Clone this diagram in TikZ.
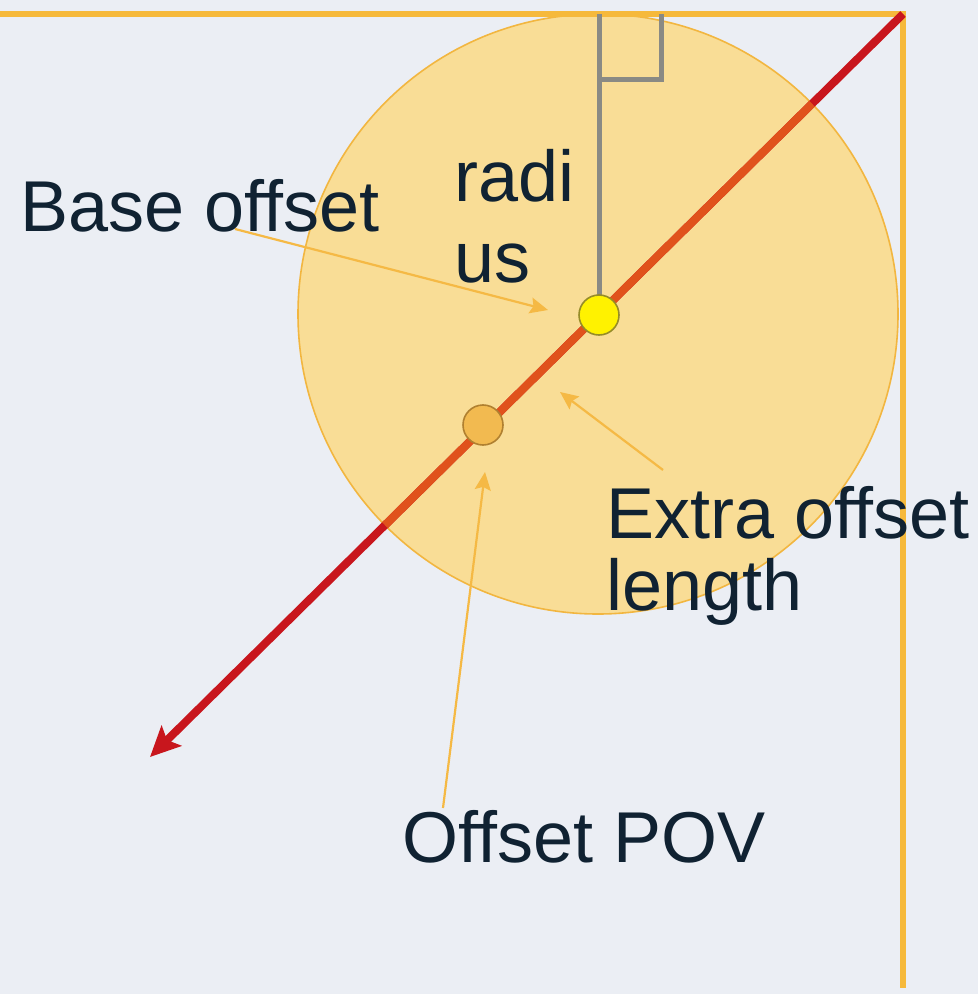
\documentclass[tikz,border=0pt]{standalone}
\usepackage{fontspec}
\setmainfont{Liberation Sans}
\usepackage{xcolor}
\usetikzlibrary{arrows.meta,positioning,calc}
\definecolor{bgpale}{RGB}{235,238,244}
\definecolor{framegold}{RGB}{246,185,59}
\definecolor{discfill}{RGB}{249,221,150}
\definecolor{discedge}{RGB}{242,182,64}
\definecolor{rayred}{RGB}{200,22,29}
\definecolor{rayorange}{RGB}{224,82,28}
\definecolor{normalgray}{RGB}{138,138,132}
\definecolor{focusyellow}{RGB}{255,242,0}
\definecolor{focusedge}{RGB}{150,140,40}
\definecolor{povorange}{RGB}{242,186,80}
\definecolor{povedge}{RGB}{176,128,48}
\definecolor{pointergold}{RGB}{245,185,69}
\definecolor{inkblue}{RGB}{16,34,50}

\begin{document}
\begin{tikzpicture}[x=0.5pt, y=-0.5pt,
    lbl/.style={anchor=base west, align=left, inner sep=0pt, text=inkblue, font=\fontsize{36}{36}\selectfont},
    pointer/.style={-{Stealth[length=9pt,width=8pt,inset=1.5pt]}, line width=1.1pt, pointergold},
    dot/.style={circle, draw, line width=0.8pt, minimum size=20pt, inner sep=0pt}]
    \fill[bgpale] (0,0) rectangle (978,994);
    \useasboundingbox (0,0) rectangle (978,994);

    \coordinate (corner) at (903,14);
    \coordinate (tip) at (150,757);
    \coordinate (centre) at (598,314);

    % offset sphere
    \filldraw[fill=discfill, draw=discedge, line width=0.8pt] (centre) circle[radius=300];

    % camera frame
    \draw[line width=3pt, framegold] (0,14) -- (corner) -- (903,988);

    % normal with right angle mark
    \draw[line width=2.5pt, normalgray] (599,14) -- (599,300);
    \draw[line width=2.5pt, normalgray] (600,80) -- (661,80) -- (661,14);

    % view ray
    \draw[line width=4pt, rayred, -{Stealth[length=15pt,width=14pt,inset=3pt]}] (corner) -- (tip);
    \begin{scope}
        \clip (centre) circle[radius=300];
        \draw[line width=4pt, rayorange] (corner) -- (tip);
    \end{scope}

    \node[dot, fill=focusyellow, draw=focusedge] (focus) at (599,315) {};
    \node[dot, fill=povorange, draw=povedge] (povdot) at (483,425) {};

    % labels (base anchor sits on the last line)
    \node[lbl] (base) at (20,232) {Base offset};
    \node[lbl] (radius) at (454,283) {radi\\[4.5pt]us};
    \node[lbl] (extra) at (606,610) {Extra offset\\length};
    \node[lbl] (pov) at (402,862) {Offset POV};

    \coordinate (baseFrom) at (235,229);
    \coordinate (baseTo) at (548,310);
    \coordinate (extraFrom) at (663,470);
    \coordinate (extraTo) at (560,392);
    \coordinate (povFrom) at (443,808);
    \coordinate (povTo) at (485,472);
    \draw[pointer] (baseFrom) -- (baseTo);
    \draw[pointer] (extraFrom) -- (extraTo);
    \draw[pointer] (povFrom) -- (povTo);
\end{tikzpicture}
\end{document}
